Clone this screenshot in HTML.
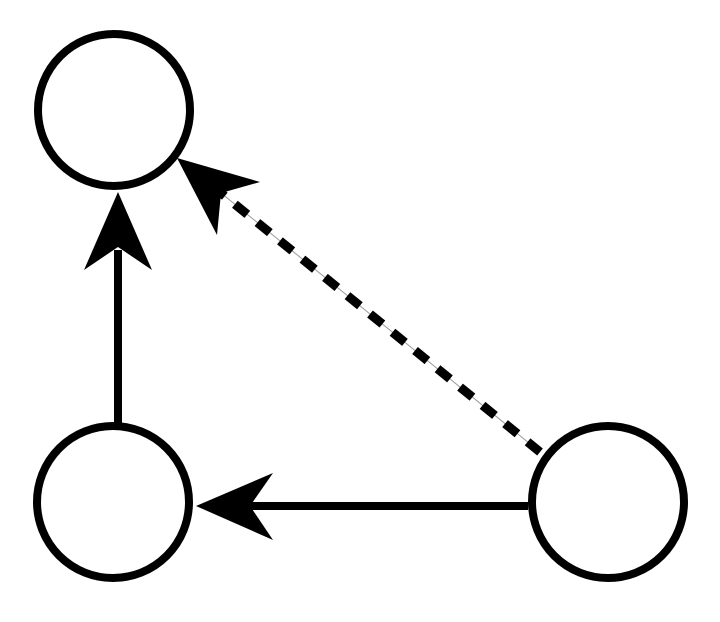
<!DOCTYPE html>
<html><head><style>html,body{margin:0;padding:0;background:#fff}</style></head>
<body>
<svg width="720" height="617" viewBox="0 0 720 617" xmlns="http://www.w3.org/2000/svg">
<g fill="none" stroke="#000" stroke-width="8">
<circle cx="114" cy="110" r="76"/>
<circle cx="113" cy="502" r="76"/>
<circle cx="608" cy="502" r="76"/>
<line x1="118" y1="426" x2="118" y2="250"/>
<line x1="528" y1="506" x2="250" y2="506"/>
</g>
<line x1="540" y1="452" x2="221" y2="193" stroke="#999" stroke-width="1"/>
<line x1="540" y1="452" x2="221" y2="193" stroke="#000" stroke-width="9" stroke-dasharray="16,13"/>
<polygon points="118,192 152,270 118,247 84,270" fill="#000"/>
<polygon points="196,506 273,473 250,506 273,540" fill="#000"/>
<polygon points="177,158 260,182 221,193 217,235" fill="#000"/>
</svg>
</body></html>
